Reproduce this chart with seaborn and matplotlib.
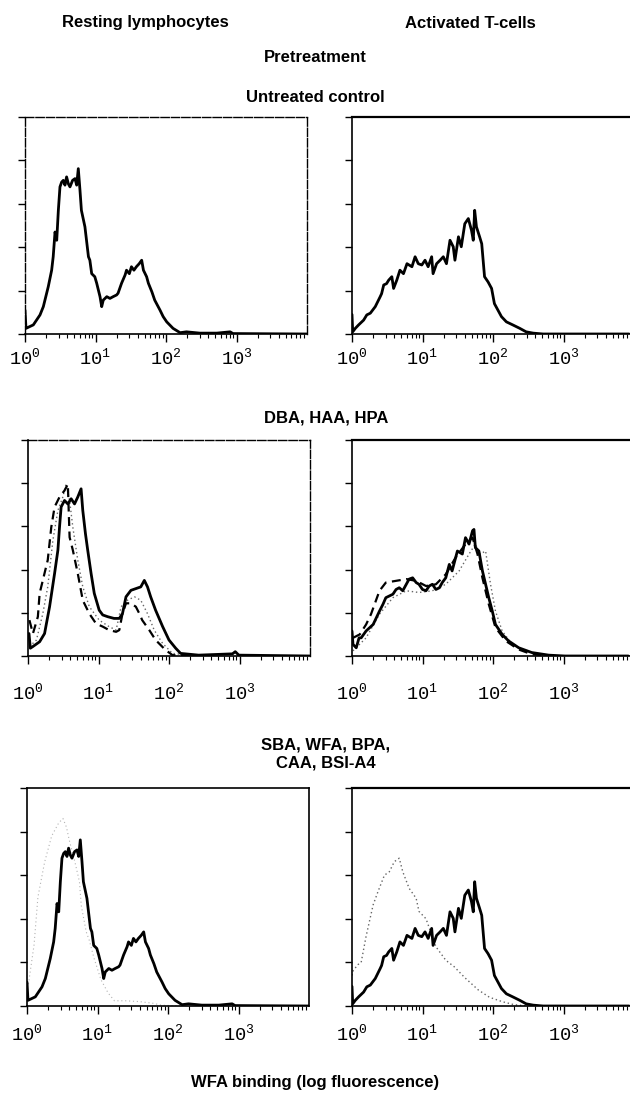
import numpy as np
import matplotlib
matplotlib.use("Agg")
import matplotlib.pyplot as plt
import seaborn as sns
from matplotlib.ticker import LogLocator, NullFormatter

# -----------------------------
# Data: log10 fluorescence (decades) and cell counts (tick units)
# -----------------------------
# resting lymphocytes, untreated control (also the solid overlay in rows 2/3)
REST_CTRL_LOG = [0.0, 0.014, 0.118, 0.213, 0.26, 0.33, 0.378, 0.40, 0.426, 0.45, 0.473, 0.496,
                 0.52, 0.543, 0.567, 0.59, 0.615, 0.638, 0.675, 0.709, 0.733, 0.756, 0.78, 0.80,
                 0.85, 0.90, 0.92, 0.946, 0.99, 1.017, 1.064, 1.088, 1.11, 1.16, 1.205, 1.25,
                 1.30, 1.32, 1.37, 1.42, 1.44, 1.48, 1.51, 1.545, 1.58, 1.62, 1.655, 1.68,
                 1.725, 1.75, 1.80, 1.84, 1.915, 1.96, 2.01, 2.10, 2.20, 2.29, 2.48, 2.72,
                 2.91, 2.95, 4.0]
REST_CTRL_CNT = [0.55, 0.13, 0.21, 0.44, 0.63, 1.09, 1.47, 1.78, 2.35, 2.16, 2.85, 3.39,
                 3.50, 3.54, 3.43, 3.62, 3.46, 3.39, 3.54, 3.58, 3.43, 3.81, 3.31, 2.85,
                 2.47, 1.78, 1.70, 1.39, 1.32, 1.17, 0.86, 0.63, 0.78, 0.86, 0.82, 0.86,
                 0.90, 0.94, 1.17, 1.36, 1.47, 1.39, 1.55, 1.47, 1.55, 1.62, 1.70, 1.47,
                 1.32, 1.17, 0.97, 0.78, 0.55, 0.40, 0.28, 0.13, 0.03, 0.05, 0.02, 0.02,
                 0.05, 0.01, 0.0]

# activated T-cells, untreated control
ACT_CTRL_LOG = [0.0, 0.01, 0.047, 0.094, 0.165, 0.21, 0.26, 0.33, 0.40, 0.42, 0.45, 0.49,
                0.52, 0.565, 0.59, 0.635, 0.68, 0.73, 0.78, 0.85, 0.895, 0.94, 0.99, 1.036,
                1.08, 1.13, 1.15, 1.20, 1.25, 1.295, 1.34, 1.39, 1.436, 1.46, 1.51, 1.55,
                1.60, 1.65, 1.695, 1.72, 1.74, 1.765, 1.81, 1.84, 1.86, 1.88, 1.93, 1.98,
                2.02, 2.07, 2.12, 2.19, 2.28, 2.38, 2.47, 2.57, 2.71, 3.93]
ACT_CTRL_CNT = [0.45, 0.05, 0.13, 0.21, 0.32, 0.44, 0.48, 0.63, 0.86, 0.93, 1.13, 1.16,
                1.24, 1.32, 1.05, 1.24, 1.47, 1.39, 1.62, 1.55, 1.78, 1.62, 1.59, 1.70,
                1.55, 1.78, 1.39, 1.62, 1.70, 1.78, 1.62, 2.16, 2.01, 1.70, 2.24, 2.01,
                2.54, 2.66, 2.39, 2.16, 2.85, 2.47, 2.24, 2.08, 1.70, 1.32, 1.20, 1.05,
                0.70, 0.55, 0.40, 0.28, 0.21, 0.13, 0.05, 0.02, 0.0, 0.0]

# DBA / HAA / HPA pretreatment, resting lymphocytes
REST_DBA_LOG = [0.014, 0.033, 0.07, 0.165, 0.235, 0.306, 0.377, 0.424, 0.447, 0.47, 0.518, 0.565,
                0.612, 0.66, 0.706, 0.753, 0.777, 0.815, 0.847, 0.895, 0.94, 1.01, 1.06, 1.13,
                1.22, 1.295, 1.34, 1.39, 1.46, 1.53, 1.60, 1.65, 1.695, 1.74, 1.81, 1.91,
                2.00, 2.095, 2.165, 2.42, 2.90, 2.94, 2.99, 4.0]
REST_DBA_CNT = [0.52, 0.18, 0.22, 0.33, 0.52, 1.14, 1.91, 2.45, 2.98, 3.45, 3.60, 3.52,
                3.64, 3.52, 3.68, 3.87, 3.37, 2.83, 2.45, 1.91, 1.45, 1.06, 0.95, 0.91,
                0.87, 0.87, 0.98, 1.37, 1.52, 1.56, 1.60, 1.75, 1.60, 1.37, 1.06, 0.68,
                0.37, 0.18, 0.06, 0.02, 0.05, 0.10, 0.02, 0.0]
REST_HAA_LOG = [0.02, 0.07, 0.14, 0.165, 0.21, 0.28, 0.33, 0.377, 0.447, 0.518, 0.565, 0.59,
                0.636, 0.706, 0.777, 0.87, 0.965, 1.06, 1.15, 1.25, 1.295, 1.34, 1.39, 1.46,
                1.53, 1.58, 1.62, 1.72, 1.81, 1.95, 2.05, 2.42]
REST_HAA_CNT = [0.83, 0.52, 0.91, 1.45, 1.75, 2.22, 2.98, 3.45, 3.68, 3.83, 3.98, 2.75,
                2.45, 1.91, 1.29, 0.98, 0.75, 0.68, 0.60, 0.56, 0.60, 0.98, 1.22, 1.22,
                1.14, 0.98, 0.83, 0.60, 0.37, 0.14, 0.02, 0.0]
REST_HPA_LOG = [0.02, 0.12, 0.21, 0.28, 0.353, 0.424, 0.494, 0.54, 0.59, 0.636, 0.706, 0.777,
                0.87, 1.01, 1.15, 1.25, 1.32, 1.41, 1.51, 1.60, 1.695, 1.79, 1.91, 2.05, 2.42]
REST_HPA_CNT = [0.22, 0.37, 0.98, 1.60, 2.68, 3.37, 3.68, 3.98, 3.60, 2.98, 2.22, 1.60,
                1.14, 0.83, 0.68, 0.60, 1.14, 1.29, 1.37, 1.29, 0.98, 0.60, 0.29, 0.06, 0.0]

# DBA / HAA / HPA pretreatment, activated T-cells
ACT_DBA_LOG = [0.0, 0.014, 0.06, 0.10, 0.13, 0.20, 0.30, 0.39, 0.44, 0.48, 0.53, 0.58,
               0.625, 0.67, 0.72, 0.77, 0.81, 0.86, 0.91, 0.95, 1.0, 1.05, 1.095, 1.14,
               1.19, 1.24, 1.28, 1.33, 1.38, 1.42, 1.495, 1.565, 1.61, 1.66, 1.71, 1.73,
               1.75, 1.80, 1.85, 1.895, 1.94, 1.99, 2.035, 2.13, 2.22, 2.365, 2.55, 2.79,
               3.02, 3.92]
ACT_DBA_CNT = [0.58, 0.27, 0.19, 0.42, 0.42, 0.58, 0.73, 1.04, 1.20, 1.35, 1.39, 1.43,
               1.54, 1.58, 1.51, 1.66, 1.78, 1.81, 1.70, 1.66, 1.54, 1.51, 1.62, 1.66,
               1.54, 1.58, 1.70, 1.81, 2.12, 1.97, 2.43, 2.36, 2.74, 2.59, 2.90, 2.93,
               2.51, 2.43, 1.97, 1.66, 1.35, 1.04, 0.73, 0.50, 0.35, 0.19, 0.08, 0.02,
               0.0, 0.0]
ACT_HAA_LOG = [0.014, 0.11, 0.20, 0.27, 0.39, 0.48, 0.625, 0.77, 0.91, 1.05, 1.19, 1.33,
               1.47, 1.61, 1.71, 1.78, 1.85, 1.94, 2.035, 2.18, 2.365, 2.55, 2.83]
ACT_HAA_CNT = [0.42, 0.50, 0.73, 0.97, 1.51, 1.70, 1.74, 1.78, 1.74, 1.62, 1.66, 1.89,
               2.28, 2.59, 2.74, 2.36, 1.81, 1.20, 0.66, 0.35, 0.15, 0.04, 0.0]
ACT_HPA_LOG = [0.014, 0.20, 0.39, 0.58, 0.77, 0.95, 1.14, 1.33, 1.52, 1.66, 1.75, 1.82,
               1.895, 1.965, 2.035, 2.13, 2.27, 2.46, 2.74, 3.02]
ACT_HPA_CNT = [0.12, 0.42, 0.97, 1.35, 1.51, 1.47, 1.51, 1.66, 1.97, 2.36, 2.59, 2.36,
               2.43, 1.66, 1.04, 0.58, 0.27, 0.12, 0.02, 0.0]

# SBA / WFA / BPA / CAA / BSI-A4 pretreatment (dotted)
REST_SBA_LOG = [0.02, 0.10, 0.155, 0.25, 0.35, 0.45, 0.51, 0.56, 0.60, 0.68, 0.744, 0.77,
                0.84, 0.885, 0.95, 1.05, 1.15, 1.24, 1.40, 1.60, 1.80, 1.90, 2.20]
REST_SBA_CNT = [0.5, 1.4, 2.5, 3.3, 3.9, 4.2, 4.3, 4.1, 3.8, 3.3, 2.85, 2.3,
                1.7, 1.5, 1.1, 0.6, 0.3, 0.12, 0.12, 0.10, 0.06, 0.02, 0.0]
ACT_SBA_LOG = [0.0, 0.02, 0.085, 0.13, 0.20, 0.30, 0.37, 0.46, 0.53, 0.60, 0.67, 0.72,
               0.81, 0.91, 0.95, 1.05, 1.19, 1.33, 1.45, 1.60, 1.79, 1.95, 2.13, 2.30, 2.50]
ACT_SBA_CNT = [0.7, 0.82, 0.95, 1.0, 1.6, 2.32, 2.63, 3.0, 3.08, 3.31, 3.39, 3.08,
               2.70, 2.47, 2.17, 2.0, 1.36, 1.05, 0.9, 0.65, 0.37, 0.2, 0.1, 0.03, 0.0]

ROW_TITLES = ["Untreated control", "DBA, HAA, HPA", "SBA, WFA, BPA,\nCAA, BSI-A4"]
COL_TITLES = ["Resting lymphocytes", "Activated T-cells"]
TICK_LABELS = ["$\\mathrm{10^{0}}$", "$\\mathrm{10^{1}}$", "$\\mathrm{10^{2}}$", "$\\mathrm{10^{3}}$"]

# -----------------------------
# Style
# -----------------------------
sns.set_style("white")
plt.rcParams["font.family"] = ["Liberation Sans", "DejaVu Sans"]
plt.rcParams["text.color"] = "black"
plt.rcParams["mathtext.fontset"] = "custom"
plt.rcParams["mathtext.rm"] = "Liberation Mono"
plt.rcParams["mathtext.it"] = "Liberation Mono"
plt.rcParams["mathtext.bf"] = "Liberation Mono"

W, H = 630, 1101
fig = plt.figure(figsize=(W / 100, H / 100), dpi=100)


def rect(x0, top, bottom, width=282):
    return [x0 / W, 1 - bottom / H, width / W, (bottom - top) / H]


# -----------------------------
# Panels
# -----------------------------
rows = [(117, 334, 25, 4), (440, 656, 28, 13), (788, 1006, 27, 7)]
curves = [
    [[(REST_CTRL_LOG, REST_CTRL_CNT, "solid")],
     [(ACT_CTRL_LOG, ACT_CTRL_CNT, "solid")]],
    [[(REST_HPA_LOG, REST_HPA_CNT, "dotted"), (REST_HAA_LOG, REST_HAA_CNT, "dashed"),
      (REST_DBA_LOG, REST_DBA_CNT, "solid")],
     [(ACT_HPA_LOG, ACT_HPA_CNT, "dotted"), (ACT_HAA_LOG, ACT_HAA_CNT, "dashed"),
      (ACT_DBA_LOG, ACT_DBA_CNT, "solid")]],
    [[(REST_SBA_LOG, REST_SBA_CNT, "faint"), (REST_CTRL_LOG, REST_CTRL_CNT, "solid")],
     [(ACT_SBA_LOG, ACT_SBA_CNT, "dotted"), (ACT_CTRL_LOG, ACT_CTRL_CNT, "solid")]],
]
styles = {
    "solid": dict(color="black", lw=2.0, ls="-"),
    "dashed": dict(color="black", lw=1.6, ls=(0, (4, 2.5))),
    "dotted": dict(color="0.4", lw=1.0, ls=(0, (1, 2))),
    "faint": dict(color="0.7", lw=0.8, ls=(0, (1, 2.5))),
}

for r, (top, bottom, left_x0, pad) in enumerate(rows):
    for c in range(2):
        x0 = left_x0 if c == 0 else 352
        ax = fig.add_axes(rect(x0, top, bottom))
        for logs, cnts, kind in curves[r][c]:
            sns.lineplot(x=10 ** np.array(logs), y=cnts, ax=ax, estimator=None,
                         sort=False, **styles[kind])
        ax.set_xscale("log")
        ax.set_xlim(1, 1e4)
        ax.set_ylim(0, 5)
        ax.set_xticks([1, 10, 100, 1000])
        ax.set_xticklabels(TICK_LABELS, fontsize=13.5, color="black")
        ax.xaxis.set_minor_locator(LogLocator(base=10, subs=np.arange(2, 10)))
        ax.xaxis.set_minor_formatter(NullFormatter())
        ax.set_yticks(range(6))
        ax.set_yticklabels([])
        ax.tick_params(axis="x", which="major", direction="out", length=6, width=1,
                       pad=pad, bottom=True, colors="black")
        ax.tick_params(axis="x", which="minor", direction="out", length=3, width=0.8,
                       bottom=True, colors="black")
        ax.tick_params(axis="y", direction="out", length=5, width=1, left=True,
                       colors="black")
        ax.set_xlabel("")
        ax.set_ylabel("")
        for side in ["left", "bottom", "top", "right"]:
            ax.spines[side].set_color("black")
            ax.spines[side].set_linewidth(1.2)
        if c == 1:
            ax.spines["top"].set_linewidth(1.6)
        if c == 0 and r < 2:
            for side in ["top", "right"] + (["left"] if r == 0 else []):
                ax.spines[side].set_linestyle((0, (6, 1.5)))
                ax.spines[side].set_linewidth(1.0)

# -----------------------------
# Text
# -----------------------------
tkw = dict(ha="center", va="center", fontsize=12, fontweight="bold", color="black")
fig.text(145 / W, 1 - 23 / H, COL_TITLES[0], **tkw)
fig.text(470 / W, 1 - 23 / H, COL_TITLES[1], **tkw)
fig.text(315 / W, 1 - 58 / H, "Pretreatment", **tkw)
fig.text(315 / W, 1 - 97 / H, ROW_TITLES[0], **tkw)
fig.text(326 / W, 1 - 418 / H, ROW_TITLES[1], **tkw)
fig.text(326 / W, 1 - 754 / H, ROW_TITLES[2], linespacing=1.3, **tkw)
fig.text(315 / W, 1 - 1083 / H, "WFA binding (log fluorescence)", **tkw)

fig.savefig("out.png", dpi=100)
